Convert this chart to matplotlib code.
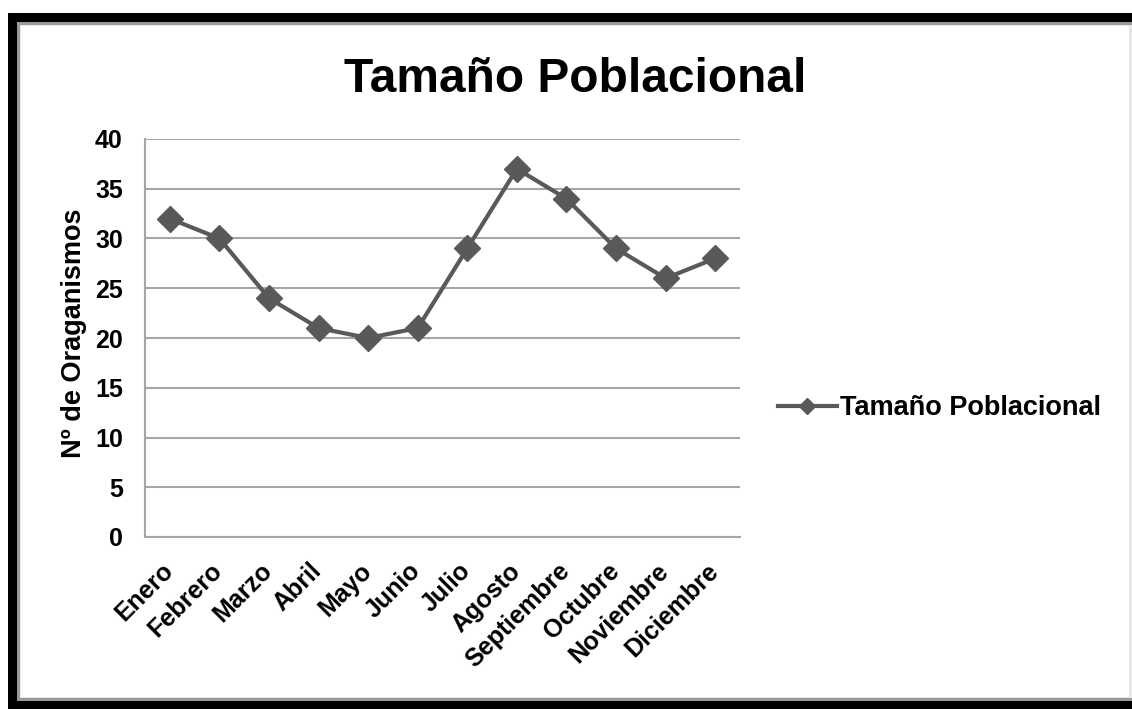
import matplotlib
matplotlib.use("Agg")
import matplotlib.pyplot as plt
from matplotlib.patches import Rectangle
from matplotlib.transforms import ScaledTranslation

plt.rcParams['font.family'] = ['Liberation Sans', 'DejaVu Sans']

meses = ["Enero", "Febrero", "Marzo", "Abril", "Mayo", "Junio", "Julio",
         "Agosto", "Septiembre", "Octubre", "Noviembre", "Diciembre"]
organismos = [32, 30, 24, 21, 20, 21, 29, 37, 34, 29, 26, 28]
y_ticks = [0, 5, 10, 15, 20, 25, 30, 35, 40]

W, H = 1132, 709
fig = plt.figure(figsize=(W / 100, H / 100), dpi=100)
fig.patch.set_facecolor("white")

# Heavy black frame with a thin grey inner edge
def px_rect(x0, y0, x1, y1, **kw):
    fig.patches.append(Rectangle((x0 / W, 1 - y1 / H), (x1 - x0) / W, (y1 - y0) / H,
                                 transform=fig.transFigure, zorder=-10, **kw))

px_rect(8, 13, W + 20, H + 20, facecolor="black", edgecolor="none")
px_rect(17, 22, W + 20, 701, facecolor="#9a9a9a", edgecolor="none")
px_rect(20, 25, W + 20, 698, facecolor="#e6e6e6", edgecolor="none")
px_rect(21, 26, W - 3, 697, facecolor="white", edgecolor="none")

ax = fig.add_axes([145 / W, 1 - 537 / H, (740 - 145) / W, (537 - 139) / H])
ax.set_facecolor("none")

x = list(range(len(meses)))
ax.plot(x, organismos, color="#595959", linewidth=3.0, marker="D",
        markersize=13, markerfacecolor="#595959", markeredgecolor="#595959",
        label="Tamaño Poblacional", zorder=3)

ax.set_xlim(-0.5, len(meses) - 0.5)
ax.set_ylim(0, 40)
ax.set_yticks(y_ticks)
ax.set_yticklabels([str(v) for v in y_ticks], fontsize=18, fontweight="bold")
ax.set_xticks(x)
ax.set_xticklabels(meses, rotation=45, ha="right", rotation_mode="anchor",
                   fontsize=18, fontweight="bold")
ax.tick_params(axis="both", length=0)
ax.tick_params(axis="y", pad=16)
ax.tick_params(axis="x", pad=12)

# nudge the slanted month names left/down
shift = ScaledTranslation(-0.09, -0.05, fig.dpi_scale_trans)
for lbl in ax.get_xticklabels():
    lbl.set_transform(lbl.get_transform() + shift)

ax.grid(axis="y", color="#a6a6a6", linewidth=1.5, zorder=1)
ax.set_axisbelow(True)
for side in ("top", "right"):
    ax.spines[side].set_visible(False)
for side in ("left", "bottom"):
    ax.spines[side].set_color("#a6a6a6")
    ax.spines[side].set_linewidth(1.5)

ax.set_ylabel("Nº de Oraganismos", fontsize=19.5, fontweight="bold", labelpad=6,
              y=0.512)

fig.text(575 / W, 1 - 79 / H, "Tamaño Poblacional", ha="center", va="center",
         fontsize=34.5, fontweight="bold")

leg = ax.legend(loc="center left", bbox_to_anchor=(764 / W, 1 - 408 / H),
                bbox_transform=fig.transFigure, frameon=False,
                prop={"weight": "bold", "size": 19.5}, handlelength=2.2,
                handletextpad=0.1, markerscale=0.6, borderpad=0)

fig.savefig("out.png", dpi=100)
